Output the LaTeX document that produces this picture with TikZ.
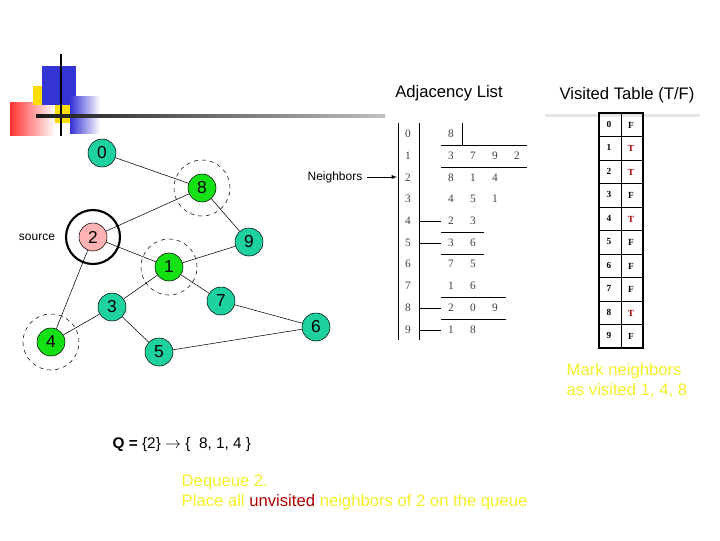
\documentclass[tikz,border=0pt]{standalone}
\usepackage{fontspec}
\setmainfont{Liberation Sans}
\newfontfamily\serifx{Liberation Serif}
\definecolor{tealn}{RGB}{30,210,160}
\definecolor{grn}{RGB}{20,225,20}
\definecolor{yelt}{RGB}{245,240,40}
\begin{document}
\begin{tikzpicture}[x=0.75pt,y=-0.75pt,
  gnode/.style={circle,draw=black,fill=tealn,minimum size=28*0.75pt,inner sep=0pt,font=\fontsize{13}{13}\selectfont},
  vnode/.style={gnode,fill=grn},
  ring/.style={circle,draw,dashed,minimum size=56*0.75pt},
  tnum/.style={font=\serifx\fontsize{8.5}{9}\selectfont,text=black!75},
  vnum/.style={font=\serifx\bfseries\fontsize{7}{7}\selectfont},
  yel/.style={text=yelt,font=\fontsize{12.5}{15}\selectfont,align=left}]
\useasboundingbox (0,0) rectangle (720,540);
\fill[white] (0,0) rectangle (720,540);
% logo
\shade[left color=red!80,right color=white] (10,102) rectangle (55,135);
\fill[yellow!80!orange] (33,86) rectangle (42,105);
\fill[blue!80!black!80] (42,66) rectangle (76,105);
\fill[yellow!80!orange] (55,105) rectangle (70,123);
\shade[left color=blue!80!black!80,right color=white] (70,96) rectangle (100,133);
\draw[line width=2pt] (61,54) -- (61,136);
\shade[left color=black!90,right color=black!25] (36,114.5) rectangle (385,117.5);
\fill[black!10] (545,114) rectangle (700,117);
% graph
\node[gnode] (n0) at (102,153) {0};
\node[vnode] (n8) at (202,188) {8};
\node[gnode,fill=red!30!white] (n2) at (93,237) {2};
\node[gnode] (n9) at (249,242) {9};
\node[vnode] (n1) at (169,267) {1};
\node[gnode] (n7) at (221,301) {7};
\node[gnode] (n3) at (112,307) {3};
\node[gnode] (n6) at (316,327) {6};
\node[vnode] (n4) at (51,342) {4};
\node[gnode] (n5) at (159,352) {5};
\node[circle,draw,line width=1.6pt,minimum size=54*0.75pt] (r2) at (n2) {};
\node[ring] (r8) at (n8) {};
\node[ring] (r1) at (n1) {};
\node[ring] (r4) at (n4) {};
\foreach \a/\b in {n0/n8,n8/n2,n8/n9,n2/n1,n1/n9,n1/n7,n1/n3,n2/n4,n3/n4,n3/n5,n7/n6,n5/n6}
  \draw (\a) -- (\b);
\node[font=\fontsize{9}{9}\selectfont] (src) at (37,237) {source};
% adjacency list
\node[font=\fontsize{12.5}{12}\selectfont] (tadj) at (449,93) {Adjacency List};
\node[font=\fontsize{12.5}{12}\selectfont] (tvis) at (627,95) {Visited Table (T/F)};
\node[font=\fontsize{9}{9}\selectfont,anchor=east] (nb) at (367,177) {Neighbors};
\coordinate (nbend) at (397,177);
\draw[-latex] (nb.east) -- (nbend);
\draw (398,123) -- (398,340);
\draw (419,123) -- (419,340);
\foreach \i in {0,...,9} \node[tnum] (r\i) at (408,{134+21.7*\i}) {\i};
\foreach \r/\vals in {0/{8},1/{3,7,9,2},2/{8,1,4},3/{4,5,1},4/{2,3},5/{3,6},6/{7,5},7/{1,6},8/{2,0,9},9/{1,8}}{
  \foreach \v [count=\c from 0] in \vals
    \node[tnum] at ({451+22*\c},{134+21.7*\r}) {\v};
}
\draw (441,145) -- (527,145);
\draw (462,123) -- (462,145);
\draw (441,167) -- (527,167);
\draw (419,221) -- (441,221);
\draw (441,232) -- (484,232);
\draw (419,243) -- (441,243);
\draw (441,254) -- (484,254);
\draw (441,297) -- (506,297);
\draw (419,308) -- (441,308);
\draw (441,319) -- (506,319);
\draw (419,330) -- (441,330);
% visited table
\foreach \i/\v/\col in {0/F/black,1/T/red!65!black,2/T/red!65!black,3/F/black,4/T/red!65!black,5/F/black,6/F/black,7/F/black,8/T/red!65!black,9/F/black}{
  \draw (599,{113+23.5*\i}) -- (643,{113+23.5*\i});
  \node[vnum] at (609,{124+23.5*\i}) {\i};
  \node[vnum,text=\col] at (631,{125+23.5*\i}) {\v};
}
\draw (621,113) -- (621,348);
\draw[line width=1.6pt] (599,113) rectangle (643,348);
% texts
\node[yel,anchor=north west] (mark) at (562,359) {Mark neighbors\\as visited 1, 4, 8};
\node[anchor=west,font=\fontsize{11.5}{11}\selectfont] (q) at (108,445) {\textbf{Q =} \{2\} $\rightarrow$ \{ \ 8, 1, 4 \}};
\node[yel,anchor=north west] (deq) at (177,470) {Dequeue 2.\\Place all \textcolor{red!70!black}{unvisited} neighbors of 2 on the queue};
\end{tikzpicture}
\end{document}
